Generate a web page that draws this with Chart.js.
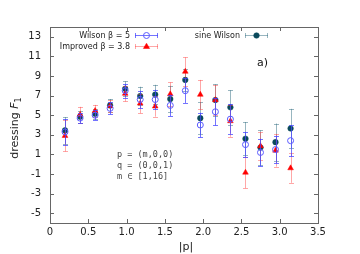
<!DOCTYPE html>
<html>
<head>
<meta charset="utf-8">
<script src="https://cdn.jsdelivr.net/npm/chart.js@4"></script>
<style>
html, body { margin: 0; padding: 0; background: #fff; }
</style>
</head>
<body>
<canvas id="dressChart" width="360" height="254"></canvas>
<script>
// |p| = m*pi/16, m = 1..16
let momenta = [0.196, 0.393, 0.589, 0.785, 0.982, 1.178, 1.374, 1.571, 1.767, 1.963, 2.160, 2.356, 2.553, 2.749, 2.945, 3.142];

let wilsonVals = [3.3, 4.7, 5.0, 5.7, 7.5, 6.6, 6.6, 6.0, 7.5, 4.0, 5.35, 4.6, 2.0, 1.2, 1.5, 2.4];
let wilsonErr  = [1.3, 0.5, 0.5, 0.6, 0.7, 0.9, 1.0, 1.1, 1.25, 1.25, 1.4, 1.5, 1.3, 1.4, 1.4, 1.6];

let improvedVals = [2.9, 5.05, 5.45, 5.95, 7.2, 6.2, 5.9, 7.15, 9.45, 7.1, 6.55, 4.4, -0.85, 1.85, 1.4, -0.4];
let improvedErr  = [1.6, 0.8, 0.6, 0.6, 0.8, 1.0, 1.05, 1.2, 1.45, 1.5, 1.5, 1.6, 1.6, 1.4, 1.65, 1.5];

let sineVals = [3.45, 4.85, 5.15, 6.0, 7.7, 6.95, 7.1, 6.65, 8.6, 4.7, 6.55, 5.8, 2.6, 1.7, 2.25, 3.65];
let sineErr  = [1.35, 0.6, 0.5, 0.65, 0.75, 0.95, 1.0, 1.35, 1.1, 1.65, 1.6, 1.75, 1.7, 1.75, 1.9, 2.0];

let xTicks = [0, 0.5, 1, 1.5, 2, 2.5, 3, 3.5];
let yTicks = [-5, -3, -1, 1, 3, 5, 7, 9, 11, 13];

let textFont = "'DejaVu Sans', Verdana, sans-serif";
let monoFont = "'DejaVu Sans Mono', monospace";

function toPoints(vals) {
    return vals.map((v, i) => ({ x: momenta[i], y: v }));
}

// error bars of one dataset drawn right before its markers
const errorBars = {
    id: 'errorBars',
    beforeDatasetDraw(chart, args) {
        let ds = chart.data.datasets[args.index];
        let ctx = chart.ctx;
        let yScale = chart.scales.y;
        ctx.save();
        ctx.strokeStyle = ds.barColor;
        ctx.lineWidth = 1;
        args.meta.data.forEach((pt, i) => {
            let v = ds.data[i].y;
            let e = ds.errors[i];
            let top = yScale.getPixelForValue(v + e);
            let bot = yScale.getPixelForValue(v - e);
            let x = Math.round(pt.x) + 0.5;
            ctx.beginPath();
            ctx.moveTo(x, top);
            ctx.lineTo(x, bot);
            ctx.moveTo(x - 2.5, Math.round(top) + 0.5);
            ctx.lineTo(x + 2.5, Math.round(top) + 0.5);
            ctx.moveTo(x - 2.5, Math.round(bot) + 0.5);
            ctx.lineTo(x + 2.5, Math.round(bot) + 0.5);
            ctx.stroke();
        });
        ctx.restore();
    }
};

function drawMarker(ctx, ds, x, y) {
    ctx.save();
    ctx.fillStyle = ds.backgroundColor;
    ctx.strokeStyle = ds.borderColor;
    ctx.lineWidth = ds.borderWidth;
    let r = ds.pointRadius;
    ctx.beginPath();
    if (ds.pointStyle === 'triangle') {
        ctx.moveTo(x, y - r);
        ctx.lineTo(x + r * 0.95, y + r * 0.6);
        ctx.lineTo(x - r * 0.95, y + r * 0.6);
        ctx.closePath();
    } else {
        ctx.arc(x, y, r, 0, Math.PI * 2);
    }
    ctx.fill();
    ctx.stroke();
    ctx.restore();
}

// frame, inward ticks, key, labels
const decorations = {
    id: 'decorations',
    afterDraw(chart) {
        let ctx = chart.ctx;
        let area = chart.chartArea;
        let xs = chart.scales.x, ys = chart.scales.y;
        ctx.save();

        ctx.strokeStyle = '#666';
        ctx.lineWidth = 1;
        ctx.strokeRect(Math.round(area.left) + 0.5, Math.round(area.top) + 0.5,
            Math.round(area.right - area.left), Math.round(area.bottom - area.top));
        ctx.beginPath();
        xTicks.forEach(t => {
            let px = Math.round(xs.getPixelForValue(t)) + 0.5;
            ctx.moveTo(px, area.bottom); ctx.lineTo(px, area.bottom - 4);
            ctx.moveTo(px, area.top); ctx.lineTo(px, area.top + 4);
        });
        yTicks.forEach(t => {
            let py = Math.round(ys.getPixelForValue(t)) + 0.5;
            ctx.moveTo(area.left, py); ctx.lineTo(area.left + 4, py);
            ctx.moveTo(area.right, py); ctx.lineTo(area.right - 4, py);
        });
        ctx.stroke();

        // key
        let dss = chart.data.datasets;
        let keys = [
            { ds: dss[0], textX: 130, lineX: 135, y: 35 },
            { ds: dss[1], textX: 130, lineX: 135, y: 46 },
            { ds: dss[2], textX: 240, lineX: 245, y: 35 }
        ];
        ctx.font = '8px ' + textFont;
        ctx.textAlign = 'right';
        ctx.textBaseline = 'middle';
        keys.forEach(k => {
            ctx.fillStyle = '#222';
            ctx.fillText(k.ds.label, k.textX, k.y + 0.5);
            let y = k.y + 0.5;
            ctx.strokeStyle = k.ds.barColor;
            ctx.beginPath();
            ctx.moveTo(k.lineX, y); ctx.lineTo(k.lineX + 23, y);
            ctx.moveTo(k.lineX + 0.5, y - 2.5); ctx.lineTo(k.lineX + 0.5, y + 2.5);
            ctx.moveTo(k.lineX + 22.5, y - 2.5); ctx.lineTo(k.lineX + 22.5, y + 2.5);
            ctx.stroke();
            drawMarker(ctx, k.ds, k.lineX + 11.5, y);
        });

        ctx.fillStyle = '#111';
        ctx.font = '11px ' + textFont;
        ctx.textAlign = 'left';
        ctx.fillText('a)', 257, 63);

        ctx.font = '8.5px ' + monoFont;
        ctx.fillStyle = '#444';
        ctx.fillText('p = (m,0,0)', 117, 155);
        ctx.fillText('q = (0,0,1)', 117, 166);
        ctx.fillText('m \u2208 [1,16]', 117, 177);

        // x title
        ctx.font = '11px ' + textFont;
        ctx.fillStyle = '#222';
        ctx.textAlign = 'center';
        ctx.fillText('|p|', 186, 247);

        // y title: dressing F_1
        ctx.translate(17.5, 128);
        ctx.rotate(-Math.PI / 2);
        ctx.textAlign = 'left';
        ctx.textBaseline = 'alphabetic';
        let f1 = '11px ' + textFont;
        let fIt = 'italic 11px ' + textFont;
        let fSub = '8px ' + textFont;
        ctx.font = f1; let w1 = ctx.measureText('dressing ').width;
        ctx.font = fIt; let w2 = ctx.measureText('F').width;
        ctx.font = fSub; let w3 = ctx.measureText('1').width;
        let x0 = -(w1 + w2 + w3) / 2;
        ctx.font = f1; ctx.fillText('dressing ', x0, 0);
        ctx.font = fIt; ctx.fillText('F', x0 + w1, 0);
        ctx.font = fSub; ctx.fillText('1', x0 + w1 + w2, 3);

        ctx.restore();
    }
};

let ctx = document.getElementById('dressChart');

new Chart(ctx, {
    type: 'scatter',
    data: {
        datasets: [{
            label: 'Wilson \u03b2 = 5',
            data: toPoints(wilsonVals),
            errors: wilsonErr,
            barColor: 'rgba(70, 70, 255, 0.75)',
            pointStyle: 'circle',
            pointRadius: 3,
            backgroundColor: 'rgba(0,0,0,0)',
            borderColor: '#5a5aff',
            borderWidth: 1
        }, {
            label: 'Improved \u03b2 = 3.8',
            data: toPoints(improvedVals),
            errors: improvedErr,
            barColor: 'rgba(255, 60, 60, 0.45)',
            pointStyle: 'triangle',
            pointRadius: 3.3,
            backgroundColor: '#ff0000',
            borderColor: '#ff0000',
            borderWidth: 0.5
        }, {
            label: 'sine Wilson',
            data: toPoints(sineVals),
            errors: sineErr,
            barColor: 'rgba(50, 110, 130, 0.5)',
            pointStyle: 'circle',
            pointRadius: 2.8,
            backgroundColor: '#0a4a5c',
            borderColor: '#0a4a5c',
            borderWidth: 0.5
        }]
    },
    options: {
        responsive: false,
        animation: false,
        layout: { padding: { top: 27, right: 42, left: 0, bottom: 0 } },
        plugins: {
            legend: { display: false },
            tooltip: { enabled: false }
        },
        scales: {
            x: {
                type: 'linear',
                min: 0,
                max: 3.5,
                afterBuildTicks(scale) { scale.ticks = xTicks.map(v => ({ value: v })); },
                afterFit(scale) { scale.height = 31; },
                ticks: { font: { family: textFont, size: 10 }, color: '#222', padding: 3, maxRotation: 0 },
                grid: { display: false, drawTicks: false },
                border: { display: false }
            },
            y: {
                min: -6,
                max: 14,
                afterBuildTicks(scale) { scale.ticks = yTicks.map(v => ({ value: v })); },
                afterFit(scale) { scale.width = 50; },
                ticks: { font: { family: textFont, size: 10 }, color: '#222', padding: 9 },
                grid: { display: false, drawTicks: false },
                border: { display: false }
            }
        }
    },
    plugins: [errorBars, decorations]
});
</script>
</body>
</html>
